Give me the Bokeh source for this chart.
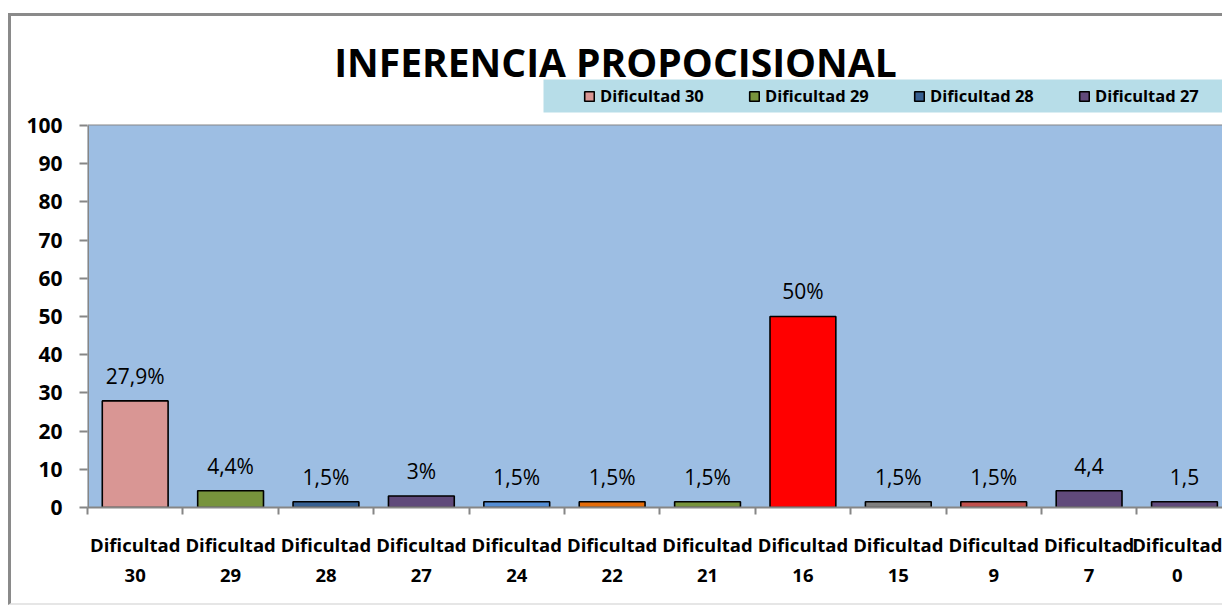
from bokeh.plotting import figure
from bokeh.models import (ColumnDataSource, Range1d, FixedTicker, LabelSet, Legend,
                          LegendItem, Label, BoxAnnotation)
from bokeh.core.properties import value
from bokeh.embed import file_html
from bokeh.resources import INLINE

categories = ["Dificultad 30", "Dificultad 29", "Dificultad 28", "Dificultad 27",
              "Dificultad 24", "Dificultad 22", "Dificultad 21", "Dificultad 16",
              "Dificultad 15", "Dificultad 9", "Dificultad 7", "Dificultad 0"]
values = [27.9, 4.4, 1.5, 3, 1.5, 1.5, 1.5, 50, 1.5, 1.5, 4.4, 1.5]
value_labels = ["27,9%", "4,4%", "1,5%", "3%", "1,5%", "1,5%", "1,5%", "50%",
                "1,5%", "1,5%", "4,4", "1,5"]
colors = ["#d99694", "#77933c", "#376092", "#604a7b", "#558ed5", "#e46c0a",
          "#77933c", "#ff0000", "#7f7f7f", "#c0504d", "#604a7b", "#604a7b"]
y_ticks = [0, 10, 20, 30, 40, 50, 60, 70, 80, 90, 100]
y_max = 100
legend_count = 4
title_text = "INFERENCIA  PROPOCISIONAL"

xs = [i + 0.5 for i in range(len(categories))]
src = ColumnDataSource(dict(x=xs, top=values, color=colors, label=value_labels,
                            name=categories))

FONT = "Open Sans"
GRID = "#868686"
PLOT_BG = "#9dbee3"
LEGEND_BG = "#b7dde8"

p = figure(width=1214, height=592, output_backend="svg", toolbar_location=None,
           x_range=Range1d(0, 11.93), y_range=Range1d(0, 128.53),
           min_border_left=76, min_border_right=0, min_border_top=0,
           min_border_bottom=101)
try:
    p.title = None
except Exception:
    p.title.visible = False
p.styles = {"border-top": "3px solid #8a8a8a", "border-left": "3px solid #8a8a8a",
            "border-bottom": "2px solid #e6e6e6", "margin-top": "13px",
            "margin-left": "8px"}
p.background_fill_color = "white"
p.border_fill_color = "white"
p.outline_line_color = None

# plot area (0..100 band)
p.quad(left=[0], right=[len(categories) + 1], bottom=[0], top=[y_max],
       fill_color=PLOT_BG, line_color=None)

p.ygrid.ticker = FixedTicker(ticks=y_ticks)
p.ygrid.grid_line_color = GRID
p.ygrid.grid_line_width = 2
p.xgrid.grid_line_color = None

renderers = []
for i in range(len(categories)):
    r = p.vbar(x=[xs[i]], top=[values[i]], bottom=0, width=0.69,
               fill_color=colors[i], line_color="black", line_width=1.6)
    renderers.append(r)

# y axis line along the plot area only
p.segment(x0=[0], y0=[0], x1=[0], y1=[y_max], line_color=GRID, line_width=3)

labels = LabelSet(x="x", y="top", text="label", source=src, text_align="center",
                  text_baseline="alphabetic", y_offset=17, text_font=value(FONT),
                  text_font_size=value("21px"), text_color="black")
p.add_layout(labels)

p.yaxis.ticker = FixedTicker(ticks=y_ticks)
p.yaxis.axis_line_color = None
p.yaxis.major_tick_line_color = GRID
p.yaxis.major_tick_line_width = 2
p.yaxis.major_tick_out = 8
p.yaxis.major_tick_in = 0
p.yaxis.minor_tick_line_color = None
p.yaxis.major_label_text_font = FONT
p.yaxis.major_label_text_font_style = "bold"
p.yaxis.major_label_text_font_size = "21px"
p.yaxis.major_label_text_color = "black"
p.yaxis.major_label_standoff = 17

p.xaxis.ticker = FixedTicker(ticks=xs, minor_ticks=list(range(len(categories) + 1)))
p.xaxis.major_label_overrides = {x: c.replace(" ", "\n") for x, c in zip(xs, categories)}
p.xaxis.axis_line_color = GRID
p.xaxis.axis_line_width = 2
p.xaxis.major_tick_line_color = None
p.xaxis.major_tick_out = 0
p.xaxis.major_tick_in = 0
p.xaxis.minor_tick_line_color = GRID
p.xaxis.minor_tick_line_width = 2
p.xaxis.minor_tick_out = 7
p.xaxis.minor_tick_in = 0
p.xaxis.major_label_text_font = FONT
p.xaxis.major_label_text_font_style = "bold"
p.xaxis.major_label_text_font_size = "18.5px"
p.xaxis.major_label_text_color = "black"
p.xaxis.major_label_standoff = 17

# legend band + legend
band = BoxAnnotation(left=456, right=1300, bottom=395, top=428,
                     left_units="screen", right_units="screen",
                     bottom_units="screen", top_units="screen",
                     fill_color=LEGEND_BG, fill_alpha=1, line_color=None)
p.add_layout(band)

title = Label(x=533, y=446, x_units="screen", y_units="screen", text=title_text,
              text_align="center", text_baseline="alphabetic", text_font=FONT,
              text_font_style="bold", text_font_size="39px", text_color="black")
p.add_layout(title)

items = [LegendItem(label=categories[i], renderers=[renderers[i]])
         for i in range(legend_count)]
legend = Legend(items=items, orientation="horizontal", location=(496, 400),
                background_fill_alpha=0, border_line_color=None, padding=8,
                spacing=8, margin=0, glyph_width=12, glyph_height=12,
                label_standoff=5, label_width=140, label_text_font=FONT,
                label_text_font_style="bold", label_text_font_size="16.5px",
                label_text_color="black")
p.add_layout(legend)

open("out.html", "w").write(file_html(p, INLINE))
